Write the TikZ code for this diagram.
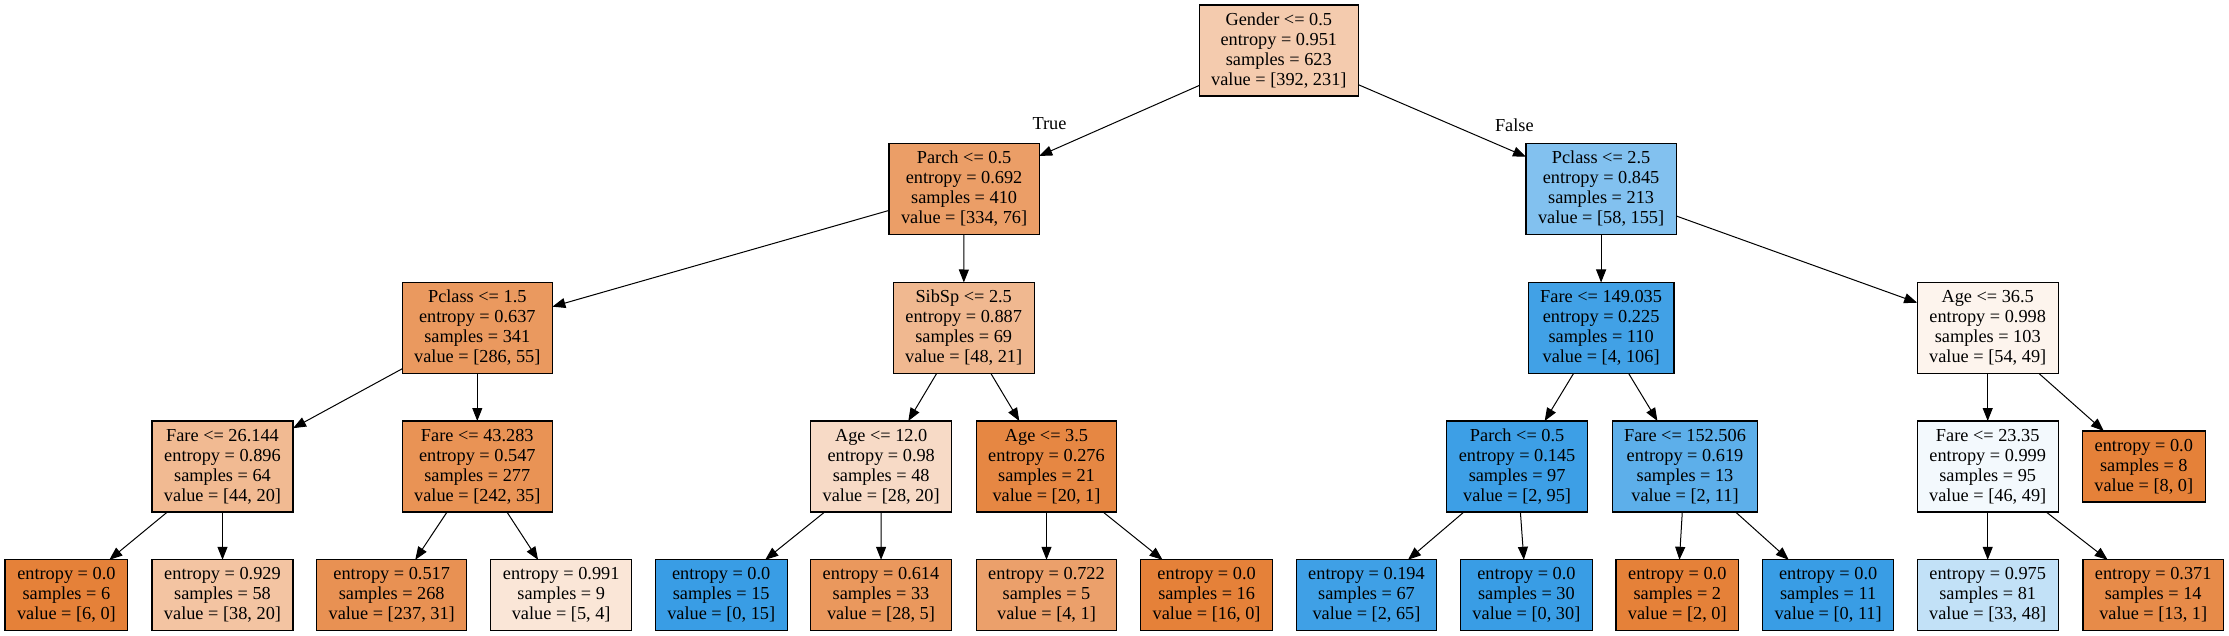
\documentclass[tikz,border=0pt]{standalone}
\usepackage{fontspec}
\setmainfont{Liberation Serif}
\usepackage{xcolor}
\usepackage{tikz}
\usetikzlibrary{arrows.meta}
\definecolor{leftcls}{HTML}{E58139}
\definecolor{rightcls}{HTML}{399DE5}

\begin{document}
\begin{tikzpicture}[x=1pt,y=-1pt,
	box/.style={draw=black,line width=1.1pt,rectangle,align=center,outer sep=0pt,
		inner xsep=12pt,inner ysep=0pt,font=\fontsize{18.3}{20}\selectfont},
	split/.style={box,minimum height=91pt},
	leaf/.style={box,minimum height=71pt},
	treearrow/.style={line width=1pt,-{Triangle[length=13pt,width=10pt]}},
	branch/.style={font=\fontsize{18.3}{20}\selectfont}]
	\useasboundingbox (0,0) rectangle (2229,636);
	% level 0 and 1
	\node[split,fill=leftcls!41!white] (n0) at (1278.8,50.5) {Gender <= 0.5\\entropy = 0.951\\samples = 623\\value = [392, 231]};
	\node[split,fill=leftcls!77!white] (n1) at (964.1,189) {Parch <= 0.5\\entropy = 0.692\\samples = 410\\value = [334, 76]};
	\node[split,fill=rightcls!63!white] (n16) at (1601.1,189) {Pclass <= 2.5\\entropy = 0.845\\samples = 213\\value = [58, 155]};
	% level 2
	\node[split,fill=leftcls!81!white] (n2) at (477.3,328) {Pclass <= 1.5\\entropy = 0.637\\samples = 341\\value = [286, 55]};
	\node[split,fill=leftcls!56!white] (n9) at (963.7,328) {SibSp <= 2.5\\entropy = 0.887\\samples = 69\\value = [48, 21]};
	\node[split,fill=rightcls!96!white] (n17) at (1601.1,328) {Fare <= 149.035\\entropy = 0.225\\samples = 110\\value = [4, 106]};
	\node[split,fill=leftcls!9!white] (n24) at (1987.7,328) {Age <= 36.5\\entropy = 0.998\\samples = 103\\value = [54, 49]};
	% level 3
	\node[split,fill=leftcls!55!white] (n3) at (222.5,466.5) {Fare <= 26.144\\entropy = 0.896\\samples = 64\\value = [44, 20]};
	\node[split,fill=leftcls!86!white] (n6) at (477.3,466.5) {Fare <= 43.283\\entropy = 0.547\\samples = 277\\value = [242, 35]};
	\node[split,fill=leftcls!29!white] (n10) at (881.2,466.5) {Age <= 12.0\\entropy = 0.98\\samples = 48\\value = [28, 20]};
	\node[split,fill=leftcls!95!white] (n13) at (1046.5,466.5) {Age <= 3.5\\entropy = 0.276\\samples = 21\\value = [20, 1]};
	\node[split,fill=rightcls!98!white] (n18) at (1517.1,466.5) {Parch <= 0.5\\entropy = 0.145\\samples = 97\\value = [2, 95]};
	\node[split,fill=rightcls!82!white] (n21) at (1685,466.5) {Fare <= 152.506\\entropy = 0.619\\samples = 13\\value = [2, 11]};
	\node[split,fill=rightcls!6!white] (n25) at (1987.7,466.5) {Fare <= 23.35\\entropy = 0.999\\samples = 95\\value = [46, 49]};
	\node[leaf,fill=leftcls] (n28) at (2143.8,466.5) {entropy = 0.0\\samples = 8\\value = [8, 0]};
	% leaves
	\node[leaf,fill=leftcls] (n4) at (66.4,595.3) {entropy = 0.0\\samples = 6\\value = [6, 0]};
	\node[leaf,fill=leftcls!47!white] (n5) at (222.5,595.3) {entropy = 0.929\\samples = 58\\value = [38, 20]};
	\node[leaf,fill=leftcls!87!white] (n7) at (391.7,595.3) {entropy = 0.517\\samples = 268\\value = [237, 31]};
	\node[leaf,fill=leftcls!20!white] (n8) at (561.2,595.3) {entropy = 0.991\\samples = 9\\value = [5, 4]};
	\node[leaf,fill=rightcls] (n11) at (721.2,595.3) {entropy = 0.0\\samples = 15\\value = [0, 15]};
	\node[leaf,fill=leftcls!82!white] (n12) at (881,595.3) {entropy = 0.614\\samples = 33\\value = [28, 5]};
	\node[leaf,fill=leftcls!75!white] (n14) at (1046.5,595.3) {entropy = 0.722\\samples = 5\\value = [4, 1]};
	\node[leaf,fill=leftcls] (n15) at (1206.6,595.3) {entropy = 0.0\\samples = 16\\value = [16, 0]};
	\node[leaf,fill=rightcls!97!white] (n19) at (1366.5,595.3) {entropy = 0.194\\samples = 67\\value = [2, 65]};
	\node[leaf,fill=rightcls] (n20) at (1526.4,595.3) {entropy = 0.0\\samples = 30\\value = [0, 30]};
	\node[leaf,fill=leftcls] (n22) at (1677.3,595.3) {entropy = 0.0\\samples = 2\\value = [2, 0]};
	\node[leaf,fill=rightcls] (n23) at (1828.1,595.3) {entropy = 0.0\\samples = 11\\value = [0, 11]};
	\node[leaf,fill=rightcls!31!white] (n26) at (1987.7,595.3) {entropy = 0.975\\samples = 81\\value = [33, 48]};
	\node[leaf,fill=leftcls!92!white] (n27) at (2153.2,595.3) {entropy = 0.371\\samples = 14\\value = [13, 1]};
	% branch labels
	\node[branch] (lblT) at (1049.5,124) {True};
	\node[branch] (lblF) at (1514.3,125.3) {False};
	% edges
	\draw[treearrow] (n0) -- (n1);
	\draw[treearrow] (n0) -- (n16);
	\draw[treearrow] (n1) -- (n2);
	\draw[treearrow] (n1) -- (n9);
	\draw[treearrow] (n2) -- (n3);
	\draw[treearrow] (n2) -- (n6);
	\draw[treearrow] (n3) -- (n4);
	\draw[treearrow] (n3) -- (n5);
	\draw[treearrow] (n6) -- (n7);
	\draw[treearrow] (n6) -- (n8);
	\draw[treearrow] (n9) -- (n10);
	\draw[treearrow] (n9) -- (n13);
	\draw[treearrow] (n10) -- (n11);
	\draw[treearrow] (n10) -- (n12);
	\draw[treearrow] (n13) -- (n14);
	\draw[treearrow] (n13) -- (n15);
	\draw[treearrow] (n16) -- (n17);
	\draw[treearrow] (n16) -- (n24);
	\draw[treearrow] (n17) -- (n18);
	\draw[treearrow] (n17) -- (n21);
	\draw[treearrow] (n18) -- (n19);
	\draw[treearrow] (n18) -- (n20);
	\draw[treearrow] (n21) -- (n22);
	\draw[treearrow] (n21) -- (n23);
	\draw[treearrow] (n24) -- (n25);
	\draw[treearrow] (n24) -- (n28);
	\draw[treearrow] (n25) -- (n26);
	\draw[treearrow] (n25) -- (n27);
\end{tikzpicture}
\end{document}
